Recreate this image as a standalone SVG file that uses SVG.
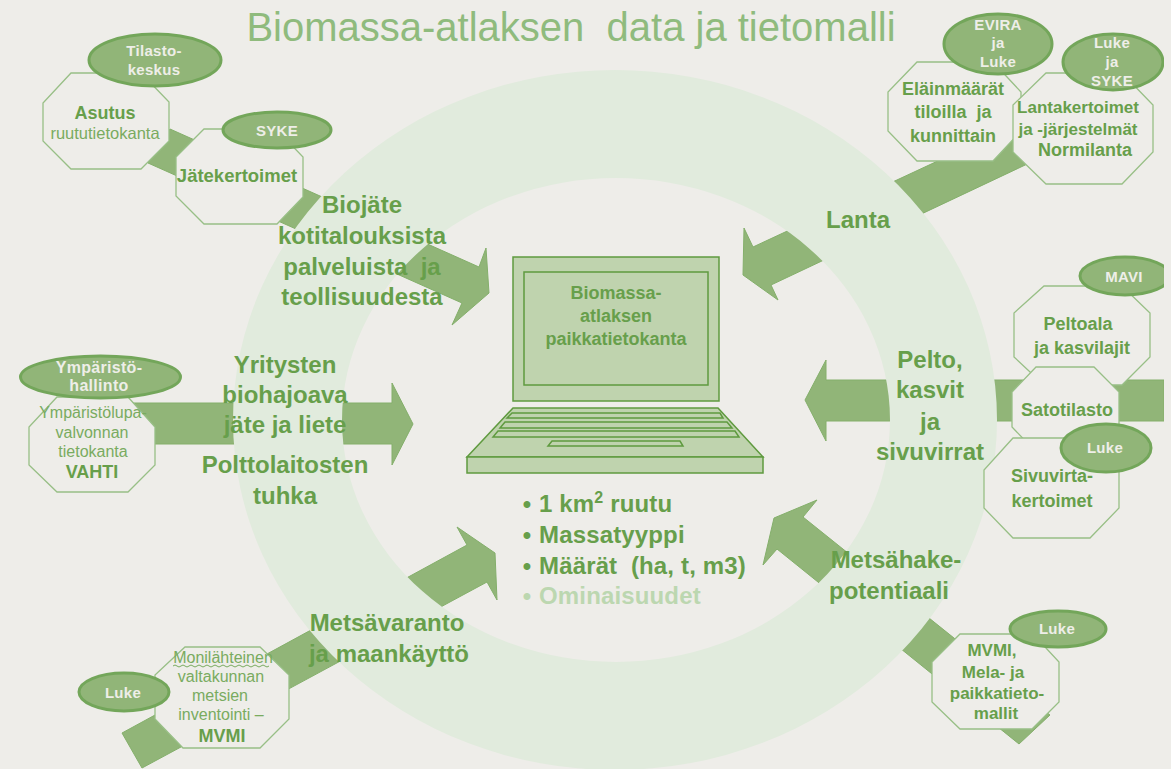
<svg xmlns="http://www.w3.org/2000/svg" width="1171" height="769" viewBox="0 0 1171 769">
<style>
text{font-family:"Liberation Sans",Arial,sans-serif;text-anchor:middle;white-space:pre}
.t{font-size:40px;fill:#8fbb7d}
.big{font-size:24px;font-weight:bold;fill:#679f4b}
.n{font-size:18px;font-weight:bold;fill:#679f4b}
.r{font-size:16px;fill:#79ab60}
.w{font-size:15px;font-weight:bold;fill:#eeeee8;letter-spacing:.3px}
.arrow{fill:#91b578;stroke:#84af6b;stroke-width:1}
.oct{fill:#eeede9;stroke:#98bf86;stroke-width:1.3}
.ell{fill:#91b578;stroke:#73a65a;stroke-width:3}
.lap{fill:#bfd3ae;stroke:#5f9a3f;stroke-width:1.5}
.l{text-anchor:start;letter-spacing:.15px}
</style>
<rect width="1171" height="769" fill="#eeede9"/>
<g id="connectors">
<polygon class="arrow" points="170,129 479,267 486,248 489,293 452,325 462,303 148,163"/>
<polygon class="arrow" points="743,275 744,228 753,247 1000,132 1040,158 771,285 778,300"/>
<polygon class="arrow" points="805,400 826,360 826,380 1164,380 1164,421 826,421 826,441"/>
<polygon class="arrow" points="130,403 392,403 392,383 413,424 392,465 392,444 130,444"/>
<polygon class="arrow" points="122,733 467,545 457,527 495,553 497,600 487,582 142,768"/>
<polygon class="arrow" points="774,518 817,500 803,517 1050,715 1019,744 777,549 763,565"/>
</g>
<path id="ring" fill="#e1ebdd" fill-rule="evenodd" d="M233,420a382,350 0 1,0 764,0a382,350 0 1,0 -764,0zM342,420a274,242 0 1,0 548,0a274,242 0 1,0 -548,0z"/>
<text class="t" x="571" y="41">Biomassa-atlaksen  data ja tietomalli</text>
<g id="asutus">
<polygon class="oct" points="71,73 141,73 169,102 169,141 141,169 71,169 43,141 43,103"/>
<ellipse class="ell" cx="155" cy="60" rx="66" ry="26"/>
<text class="w" x="154" y="56">Tilasto-</text><text class="w" x="154" y="75">keskus</text>
<text class="n" x="105" y="119">Asutus</text><text class="r" x="105" y="139" style="font-size:16.5px">ruututietokanta</text>
</g>
<g id="jatekertoimet">
<polygon class="oct" points="204,129 276,129 303,157 303,197 277,224 204,224 176,196 176,157"/>
<ellipse class="ell" cx="277" cy="130" rx="54" ry="18"/>
<text class="w" x="277" y="136">SYKE</text>
<text class="n" x="237" y="182" style="font-size:18.5px">Jätekertoimet</text>
</g>
<g id="elainmaarat">
<polygon class="oct" points="917,62 993,62 1021,92 1021,131 993,161 917,161 888,131 888,92"/>
<ellipse class="ell" cx="998" cy="44" rx="54" ry="30"/>
<text class="w" x="998" y="30">EVIRA</text><text class="w" x="998" y="48">ja</text><text class="w" x="998" y="67">Luke</text>
<text class="n" x="953" y="95">Eläinmäärät</text><text class="n" x="953" y="118">tiloilla  ja</text><text class="n" x="953" y="142">kunnittain</text>
</g>
<g id="lantakertoimet">
<polygon class="oct" points="1046,73 1122,73 1153,105 1153,152 1122,184 1046,184 1013,152 1013,105"/>
<ellipse class="ell" cx="1113" cy="62" rx="50" ry="28"/>
<text class="w" x="1112" y="48">Luke</text><text class="w" x="1112" y="67">ja</text><text class="w" x="1112" y="86">SYKE</text>
<text class="n" x="1078" y="113" style="font-size:17px">Lantakertoimet</text><text class="n" x="1078" y="135" style="font-size:17px">ja -järjestelmät</text><text class="n" x="1085" y="156">Normilanta</text>
</g>
<g id="peltoala">
<polygon class="oct" points="1044,286 1122,286 1150,313 1150,357 1122,385 1044,385 1014,357 1014,313"/>
<ellipse class="ell" cx="1125" cy="276" rx="45" ry="19"/>
<text class="w" x="1124" y="282">MAVI</text>
<text class="n" x="1078" y="330">Peltoala</text><text class="n" x="1082" y="354">ja kasvilajit</text>
</g>
<g id="satotilasto">
<polygon class="oct" points="1036,367 1094,367 1119,392 1119,427 1094,452 1036,452 1012,427 1012,392"/>
<text class="n" x="1067" y="416">Satotilasto</text>
</g>
<g id="sivuvirta">
<polygon class="oct" points="1013,438 1090,438 1119,470 1119,508 1090,538 1013,538 984,508 984,470"/>
<ellipse class="ell" cx="1106" cy="448" rx="45" ry="24"/>
<text class="w" x="1105" y="453">Luke</text>
<text class="n" x="1052" y="482">Sivuvirta-</text><text class="n" x="1052" y="507">kertoimet</text>
</g>
<g id="vahti">
<polygon class="oct" points="57,397 128,397 155,427 155,465 128,492 57,492 29,465 29,427"/>
<ellipse class="ell" cx="100.500" cy="377" rx="80" ry="21"/>
<text class="w" x="99" y="373" style="font-size:16px">Ympäristö-</text><text class="w" x="99" y="391" style="font-size:16px">hallinto</text>
<text class="r" x="93" y="418">Ympäristölupa-</text><text class="r" x="92" y="438">valvonnan</text><text class="r" x="93" y="457">tietokanta</text><text class="n" x="92" y="478">VAHTI</text>
</g>
<g id="mvmi-left">
<polygon class="oct" points="185,647 260,647 289,675 289,719 260,748 183,748 155,719 155,675"/>
<ellipse class="ell" cx="124" cy="692" rx="45" ry="19"/>
<text class="w" x="123" y="698">Luke</text>
<text class="r" x="223" y="663">Monilähteinen</text>
<path d="M173,666q2,-2 4,0t4,0t4,0t4,0t4,0t4,0t4,0t4,0t4,0t4,0t4,0t4,0t4,0t4,0t4,0t4,0t4,0t4,0t4,0t4,0t4,0t4,0t4,0t4,0" fill="none" stroke="#79ab60" stroke-width="1"/>
<text class="r" x="221" y="682">valtakunnan</text><text class="r" x="220" y="701">metsien</text><text class="r" x="221" y="720">inventointi –</text><text class="n" x="222" y="742">MVMI</text>
</g>
<g id="mvmi-right">
<polygon class="oct" points="960,634 1033,634 1059,662 1059,702 1032,729 960,729 932,702 932,662"/>
<ellipse class="ell" cx="1058" cy="629" rx="48" ry="18"/>
<text class="w" x="1057" y="634">Luke</text>
<text class="n" x="992" y="656" style="font-size:17px">MVMI,</text><text class="n" x="993" y="678" style="font-size:17px">Mela- ja</text><text class="n" x="997" y="699" style="font-size:17px">paikkatieto-</text><text class="n" x="996" y="719" style="font-size:17px">mallit</text>
</g>
<g id="laptop">
<rect class="lap" x="513" y="257" width="206" height="144"/>
<rect class="lap" x="524" y="272" width="184" height="113"/>
<polygon class="lap" points="513,408 718,408 763,457 467,457"/>
<rect class="lap" x="467" y="457" width="296" height="16"/>
<polygon class="lap" points="512,413 720,413 723,418 507,418"/>
<polygon class="lap" points="505,422 727,422 732,428 500,428"/>
<polygon class="lap" points="498,431 735,431 739,437 493,437"/>
<polygon class="lap" points="552,441 680,441 683,446 548,446"/>
<text class="n" x="616" y="299">Biomassa-</text><text class="n" x="616" y="322">atlaksen</text><text class="n" x="616" y="345">paikkatietokanta</text>
</g>
<g id="list">
<text class="big" x="527" y="512">•</text><text class="big l" x="539" y="512">1 km<tspan font-size="16" dy="-9">2</tspan><tspan dy="9"> ruutu</tspan></text>
<text class="big" x="527" y="543">•</text><text class="big l" x="539" y="543">Massatyyppi</text>
<text class="big" x="527" y="574">•</text><text class="big l" x="539" y="574">Määrät  (ha, t, m3)</text>
<text class="big" x="527" y="604" style="fill:#bcd7b0">•</text><text class="big l" x="539" y="604" style="fill:#bcd7b0">Ominaisuudet</text>
</g>
<g id="labels">
<text class="big" x="362" y="213">Biojäte</text><text class="big" x="362" y="244">kotitalouksista</text><text class="big" x="362" y="275">palveluista  ja</text><text class="big" x="362" y="305">teollisuudesta</text>
<text class="big" x="858" y="228">Lanta</text>
<text class="big" x="930" y="368">Pelto,</text><text class="big" x="930" y="398">kasvit</text><text class="big" x="930" y="430">ja</text><text class="big" x="930" y="460">sivuvirrat</text>
<text class="big" x="285" y="373">Yritysten</text><text class="big" x="285" y="403">biohajoava</text><text class="big" x="285" y="433">jäte ja liete</text><text class="big" x="285" y="473">Polttolaitosten</text><text class="big" x="285" y="504">tuhka</text>
<text class="big" x="387" y="631">Metsävaranto</text><text class="big" x="389" y="662">ja maankäyttö</text>
<text class="big" x="896" y="568">Metsähake-</text><text class="big" x="889" y="599">potentiaali</text>
</g>
<rect x="1164" y="0" width="7" height="769" fill="#eeede9"/>
</svg>
